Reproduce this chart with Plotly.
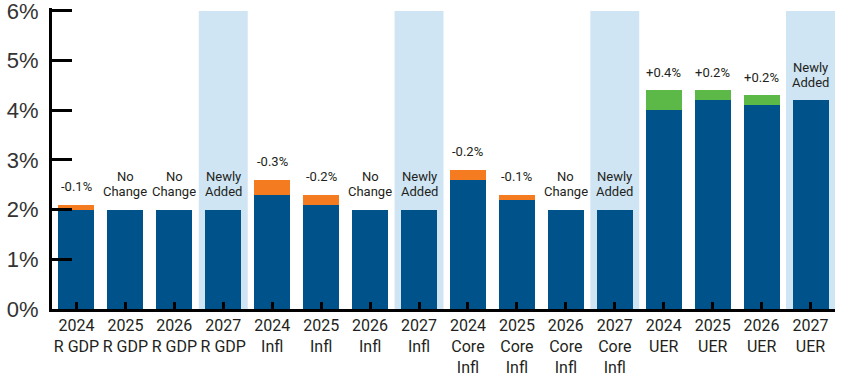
import plotly.graph_objects as go

categories = ["2024<br>R GDP", "2025<br>R GDP", "2026<br>R GDP", "2027<br>R GDP",
              "2024<br>Infl", "2025<br>Infl", "2026<br>Infl", "2027<br>Infl",
              "2024<br>Core<br>Infl", "2025<br>Core<br>Infl", "2026<br>Core<br>Infl", "2027<br>Core<br>Infl",
              "2024<br>UER", "2025<br>UER", "2026<br>UER", "2027<br>UER"]
current = [2.0, 2.0, 2.0, 2.0, 2.3, 2.1, 2.0, 2.0, 2.6, 2.2, 2.0, 2.0, 4.0, 4.2, 4.1, 4.2]
revision = [-0.1, 0.0, 0.0, None, -0.3, -0.2, 0.0, None, -0.2, -0.1, 0.0, None, 0.4, 0.2, 0.2, None]
y_ticks = [0, 1, 2, 3, 4, 5, 6]
y_tick_labels = ["0%", "1%", "2%", "3%", "4%", "5%", "6%"]

BLUE = "#00538a"
ORANGE = "#f47b20"
GREEN = "#5cb947"
SHADE = "#cfe5f4"
TEXT = "#231f20"
NARROW = "Roboto, sans-serif"

xs = list(range(len(categories)))
seg = [abs(r) if r else 0 for r in revision]
seg_colors = [ORANGE if (r is not None and r < 0) else GREEN for r in revision]

fig = go.Figure()
fig.add_trace(go.Bar(x=xs, y=current, marker=dict(color=BLUE, line=dict(width=0)),
                     hoverinfo="skip", showlegend=False))
fig.add_trace(go.Bar(x=xs, y=seg, marker=dict(color=seg_colors, line=dict(width=0)),
                     hoverinfo="skip", showlegend=False))

shapes = []
annotations = []
for i, (c, r) in enumerate(zip(current, revision)):
    top = c + (abs(r) if r else 0)
    if r is None:
        lines = ["Newly", "Added"]
        shapes.append(dict(type="rect", xref="x", yref="y", x0=i - 0.5, x1=i + 0.5,
                           y0=0, y1=y_ticks[-1], fillcolor=SHADE, line=dict(width=0),
                           layer="below"))
    elif r == 0:
        lines = ["No", "Change"]
    else:
        lines = [("+" if r > 0 else "-") + f"{abs(r):.1f}%"]
    for k, line in enumerate(reversed(lines)):
        annotations.append(dict(x=i, y=top, xref="x", yref="y", text=line,
                                showarrow=False, yanchor="middle", yshift=18 + 15 * k,
                                font=dict(family=NARROW, size=13, color=TEXT)))

fig.update_layout(
    barmode="stack",
    bargap=0.265,
    width=845, height=382,
    margin=dict(l=52, r=10, t=8, b=73, autoexpand=False),
    plot_bgcolor="white", paper_bgcolor="white",
    shapes=shapes,
    annotations=annotations,
    xaxis=dict(tickmode="array", tickvals=xs, ticktext=categories,
               range=[-0.5, len(categories) - 0.5], tickangle=0, automargin=False,
               showline=True, linecolor="black", linewidth=3,
               ticks="inside", ticklen=7, tickwidth=3, tickcolor="black",
               showgrid=False, zeroline=False, tickson="boundaries",
               tickfont=dict(family=NARROW, size=16, color=TEXT)),
    yaxis=dict(range=[0, 6.06], tickmode="array", tickvals=y_ticks, ticktext=y_tick_labels,
               automargin=False, ticklabelstandoff=6, ticklabeloverflow="allow",
               showline=True, linecolor="black", linewidth=3,
               ticks="inside", ticklen=20, tickwidth=3, tickcolor="black",
               showgrid=False, zeroline=False,
               tickfont=dict(family="Liberation Sans, Arial, sans-serif", size=22, color="#333333")),
)

fig.write_html("out.html", config={"displayModeBar": False},
               post_script="document.body.style.margin='0';")
